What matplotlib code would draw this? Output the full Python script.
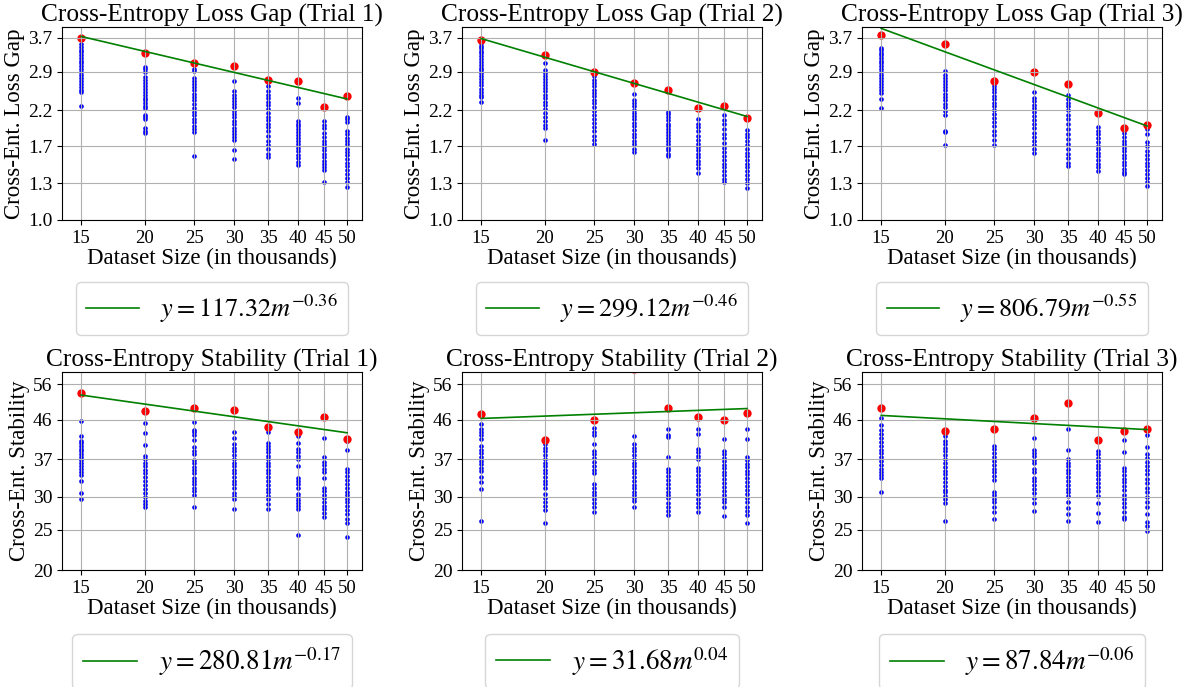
import numpy as np
import matplotlib.pyplot as plt

plt.rcParams['font.family'] = 'serif'
plt.rcParams['font.serif'] = ['Liberation Serif']
plt.rcParams['mathtext.fontset'] = 'stix'

sizes = [15, 20, 25, 30, 35, 40, 45, 50]
size_labels = ['15', '20', '25', '30', '35', '40', '45', '50']

# loss gap, one list per dataset size
gap1 = [
    [3.55, 3.47, 3.40, 3.34, 3.27, 3.20, 3.14, 3.08, 3.02, 2.96, 2.90, 2.84, 2.78, 2.72, 2.66, 2.60, 2.54, 2.50, 2.27],
    [3.00, 2.95, 2.90, 2.80, 2.74, 2.68, 2.62, 2.57, 2.51, 2.46, 2.41, 2.36, 2.31, 2.27, 2.23, 2.13, 2.10, 2.06, 1.94, 1.90, 1.87],
    [2.95, 2.91, 2.78, 2.72, 2.66, 2.60, 2.54, 2.48, 2.42, 2.36, 2.30, 2.24, 2.18, 2.12, 2.07, 2.02, 1.97, 1.92, 1.88, 1.58],
    [2.72, 2.52, 2.46, 2.40, 2.35, 2.30, 2.25, 2.19, 2.14, 2.09, 2.04, 1.99, 1.94, 1.89, 1.85, 1.81, 1.78, 1.65, 1.55],
    [2.70, 2.62, 2.53, 2.46, 2.40, 2.34, 2.28, 2.22, 2.16, 2.10, 2.05, 2.00, 1.95, 1.89, 1.83, 1.77, 1.71, 1.66, 1.61, 1.57],
    [2.41, 2.32, 2.04, 2.00, 1.96, 1.92, 1.88, 1.84, 1.80, 1.76, 1.72, 1.68, 1.64, 1.60, 1.56, 1.52, 1.48],
    [2.03, 1.98, 1.93, 1.87, 1.82, 1.77, 1.73, 1.69, 1.65, 1.61, 1.57, 1.53, 1.50, 1.46, 1.43, 1.31],
    [2.10, 2.06, 2.02, 1.90, 1.85, 1.80, 1.76, 1.72, 1.67, 1.63, 1.59, 1.55, 1.51, 1.47, 1.43, 1.39, 1.35, 1.31, 1.27],
]
gap1_red = [3.69, 3.32, 3.09, 3.02, 2.74, 2.72, 2.25, 2.44]

gap2 = [
    [3.57, 3.50, 3.44, 3.37, 3.31, 3.24, 3.18, 3.11, 3.05, 2.99, 2.93, 2.87, 2.81, 2.75, 2.69, 2.63, 2.57, 2.51, 2.46, 2.42, 2.34],
    [3.09, 2.93, 2.88, 2.82, 2.76, 2.70, 2.64, 2.58, 2.52, 2.46, 2.40, 2.34, 2.28, 2.22, 2.16, 2.10, 2.04, 1.98, 1.93, 1.78],
    [2.81, 2.73, 2.67, 2.61, 2.55, 2.49, 2.43, 2.37, 2.31, 2.25, 2.19, 2.13, 2.07, 2.01, 1.95, 1.89, 1.83, 1.78, 1.73],
    [2.48, 2.37, 2.31, 2.26, 2.21, 2.16, 2.11, 2.06, 2.01, 1.96, 1.91, 1.86, 1.81, 1.76, 1.72, 1.67, 1.63],
    [2.18, 2.14, 2.10, 2.05, 2.00, 1.96, 1.92, 1.88, 1.84, 1.80, 1.76, 1.72, 1.68, 1.65, 1.61, 1.58],
    [2.06, 2.00, 1.95, 1.89, 1.83, 1.78, 1.73, 1.69, 1.65, 1.61, 1.57, 1.53, 1.49, 1.45, 1.40],
    [2.12, 2.05, 1.99, 1.92, 1.86, 1.80, 1.74, 1.68, 1.63, 1.58, 1.54, 1.50, 1.46, 1.42, 1.38, 1.34, 1.31],
    [1.91, 1.86, 1.81, 1.76, 1.71, 1.66, 1.62, 1.58, 1.54, 1.50, 1.46, 1.42, 1.38, 1.34, 1.30, 1.26],
]
gap2_red = [3.64, 3.26, 2.89, 2.68, 2.55, 2.23, 2.27, 2.08]

gap3 = [
    [3.44, 3.38, 3.32, 3.26, 3.20, 3.14, 3.08, 3.02, 2.96, 2.90, 2.84, 2.78, 2.72, 2.66, 2.60, 2.54, 2.49, 2.39, 2.24],
    [2.91, 2.84, 2.78, 2.72, 2.66, 2.60, 2.54, 2.48, 2.42, 2.36, 2.30, 2.25, 2.19, 2.13, 1.90, 1.88, 1.71],
    [2.62, 2.56, 2.50, 2.44, 2.38, 2.32, 2.26, 2.20, 2.14, 2.08, 2.02, 1.96, 1.90, 1.84, 1.78, 1.71],
    [2.51, 2.40, 2.35, 2.29, 2.23, 2.17, 2.11, 2.05, 1.99, 1.93, 1.87, 1.81, 1.76, 1.71, 1.66, 1.62],
    [2.45, 2.38, 2.32, 2.26, 2.20, 2.13, 2.06, 1.99, 1.92, 1.85, 1.79, 1.73, 1.67, 1.61, 1.56, 1.51, 1.47],
    [1.95, 1.90, 1.85, 1.80, 1.75, 1.70, 1.66, 1.62, 1.58, 1.54, 1.50, 1.46, 1.42],
    [1.87, 1.82, 1.77, 1.72, 1.68, 1.64, 1.60, 1.56, 1.52, 1.48, 1.44, 1.41, 1.39],
    [1.92, 1.85, 1.75, 1.70, 1.64, 1.59, 1.55, 1.51, 1.47, 1.43, 1.39, 1.35, 1.31, 1.28],
]
gap3_red = [3.79, 3.53, 2.71, 2.89, 2.65, 2.16, 1.93, 1.98]

# stability
stab1 = [
    [45.7, 42.0, 41.0, 40.4, 39.8, 39.2, 38.6, 38.0, 37.4, 36.8, 36.2, 35.6, 35.0, 34.4, 33.8, 32.7, 30.7, 29.7],
    [45.1, 42.8, 40.1, 37.7, 37.0, 36.3, 35.6, 34.9, 34.2, 33.5, 32.8, 32.1, 31.4, 30.7, 30.0, 29.4, 28.9, 28.4],
    [45.5, 43.6, 43.0, 42.4, 41.2, 39.6, 38.8, 38.0, 36.9, 36.2, 35.5, 34.8, 34.3, 33.4, 32.8, 32.2, 31.6, 31.0, 30.4, 28.4],
    [43.1, 41.7, 40.2, 39.4, 38.6, 37.8, 37.0, 36.3, 35.6, 34.9, 34.2, 33.5, 32.8, 32.2, 31.6, 30.6, 30.1, 29.7, 28.0],
    [42.9, 40.5, 39.8, 39.1, 38.4, 37.7, 37.0, 36.3, 35.6, 34.9, 34.2, 33.5, 32.8, 32.1, 31.4, 30.8, 30.2, 29.6, 28.9, 28.0],
    [42.1, 40.5, 39.1, 38.4, 37.6, 37.0, 35.6, 33.4, 32.8, 32.2, 31.6, 30.5, 30.0, 29.5, 29.0, 28.5, 28.0, 24.3],
    [41.6, 37.5, 36.5, 35.8, 35.1, 34.4, 33.4, 31.6, 31.0, 30.4, 29.8, 29.2, 28.6, 28.0, 27.4, 26.8],
    [41.0, 39.0, 35.1, 34.4, 33.7, 33.0, 32.3, 31.6, 30.9, 30.3, 29.7, 29.1, 28.5, 27.9, 27.3, 26.6, 25.9, 24.0],
]
stab1_red = [53.5, 48.2, 49.2, 48.6, 44.2, 43.1, 46.8, 41.3]

stab2 = [
    [44.9, 43.7, 43.0, 42.2, 41.3, 39.8, 39.0, 38.2, 37.4, 36.7, 36.0, 35.3, 34.6, 33.5, 32.6, 31.3, 26.2],
    [40.2, 39.4, 38.6, 37.8, 37.0, 36.3, 35.6, 34.9, 34.2, 33.5, 32.8, 32.2, 31.6, 30.5, 29.8, 29.2, 28.6, 27.9, 26.0],
    [43.9, 43.1, 42.4, 40.2, 38.7, 38.0, 37.2, 36.4, 35.6, 34.9, 34.2, 32.3, 31.6, 30.9, 30.3, 29.6, 29.0, 28.4, 27.6],
    [42.1, 40.2, 39.4, 38.6, 37.8, 37.0, 36.3, 35.6, 34.9, 34.2, 33.5, 32.8, 32.1, 31.5, 30.9, 30.3, 29.8, 29.4, 28.4],
    [43.7, 42.2, 41.8, 37.5, 35.1, 34.4, 33.7, 33.0, 32.3, 31.6, 30.9, 30.3, 29.9, 29.0, 28.4, 27.8, 27.1],
    [43.7, 42.6, 39.1, 38.4, 37.7, 37.0, 35.3, 34.6, 33.9, 33.2, 32.5, 31.8, 31.1, 30.5, 29.7, 29.0, 28.3, 27.6],
    [41.3, 38.7, 38.0, 37.3, 36.6, 35.9, 35.2, 34.5, 33.8, 33.1, 32.4, 31.7, 31.0, 30.3, 29.7, 29.1, 28.4, 27.0],
    [43.7, 41.3, 37.5, 36.8, 36.1, 35.4, 34.7, 34.0, 33.3, 32.6, 31.9, 31.2, 30.5, 29.8, 29.1, 28.4, 27.7, 27.1, 26.0],
]
stab2_red = [47.5, 41.1, 45.9, 61.0, 49.2, 46.7, 45.9, 47.9]

stab3 = [
    [46.5, 44.6, 43.6, 42.6, 41.6, 40.6, 39.8, 39.0, 38.2, 37.4, 36.6, 35.8, 35.0, 34.4, 33.8, 33.4, 30.9],
    [42.1, 41.0, 40.2, 39.4, 38.6, 37.8, 37.0, 36.2, 35.4, 34.7, 34.0, 33.3, 32.6, 31.9, 31.2, 30.9, 30.2, 29.6, 29.0, 26.3],
    [39.9, 39.1, 38.3, 37.5, 36.7, 35.9, 35.1, 34.4, 33.6, 32.9, 30.9, 30.3, 29.7, 29.1, 28.4, 27.6, 26.6],
    [41.6, 39.0, 38.3, 37.6, 36.9, 36.2, 35.0, 34.4, 33.4, 32.7, 32.0, 31.3, 30.6, 29.9, 29.0, 27.7],
    [43.7, 39.0, 37.0, 36.3, 35.6, 34.9, 34.2, 33.5, 32.8, 32.1, 31.4, 30.8, 30.2, 29.1, 28.2, 27.3, 26.3],
    [38.7, 38.0, 37.3, 36.6, 35.9, 35.2, 34.5, 33.8, 33.1, 32.4, 31.7, 31.0, 30.2, 29.0, 27.4, 26.1],
    [41.1, 38.4, 35.3, 34.6, 33.9, 33.2, 32.5, 31.8, 31.1, 30.4, 29.7, 29.0, 28.3, 27.6, 26.9, 26.6],
    [42.4, 39.6, 38.0, 37.2, 36.4, 35.6, 34.8, 34.0, 33.2, 32.4, 31.6, 30.8, 30.0, 29.2, 28.4, 27.3, 26.1, 25.5, 24.8],
]
stab3_red = [49.2, 43.2, 43.7, 46.5, 50.4, 41.1, 43.2, 43.8]

# fit coefficients shown in the legends
gap_a = [117.32, 299.12, 806.79]
gap_b = [-0.36, -0.46, -0.55]
stab_a = [280.81, 31.68, 87.84]
stab_b = [-0.17, 0.04, -0.06]

gap_ticks = [1.0, 1.3, 1.7, 2.2, 2.9, 3.7]
stab_ticks = [20, 25, 30, 37, 46, 56]

fig = plt.figure(figsize=(11.97, 6.87), dpi=100)

rows = [
    ('Cross-Entropy Loss Gap', 'Cross-Ent. Loss Gap', [gap1, gap2, gap3],
     [gap1_red, gap2_red, gap3_red], gap_a, gap_b, gap_ticks, (1.0, 4.0)),
    ('Cross-Entropy Stability', 'Cross-Ent. Stability', [stab1, stab2, stab3],
     [stab1_red, stab2_red, stab3_red], stab_a, stab_b, stab_ticks, (20, 60)),
]
# axes boxes in pixels: bottom edge, height, legend gap below axes, legend font
row_boxes = [(220, 193, 62, 19), (570, 198, 64, 19.5)]
col_lefts = [62, 462, 862]

for r, (title, ylabel, blues, reds, A, B, yt, ylim) in enumerate(rows):
    bot, h, gap, lfs = row_boxes[r]
    for c in range(3):
        ax = fig.add_axes([col_lefts[c] / 1197, 1 - bot / 687, 300 / 1197, h / 687])
        ax.set_xscale('log')
        ax.set_yscale('log')
        for s, vals in zip(sizes, blues[c]):
            ax.scatter([s] * len(vals), vals, s=11, color='blue', linewidths=0)
        ax.scatter(sizes, reds[c], s=36, color='red', linewidths=0)
        p = np.polyfit(np.log(np.array(sizes) * 1000.0), np.log(reds[c]), 1)
        fit = np.exp(p[1]) * (np.array(sizes) * 1000.0) ** p[0]
        ax.plot(sizes, fit, color='green', linewidth=1.2,
                label=r'$y=%.2fm^{%.2f}$' % (A[c], B[c]))
        ax.set_xlim(13.75, 53.5)
        ax.set_ylim(*ylim)
        ax.set_xticks(sizes, size_labels)
        ax.set_yticks(yt, [str(v) for v in yt])
        ax.minorticks_off()
        ax.tick_params(axis='x', labelsize=13.5)
        ax.tick_params(axis='y', labelsize=14)
        ax.grid(True)
        ax.set_title('%s (Trial %d)' % (title, c + 1), fontsize=18.3, pad=3)
        ax.set_xlabel('Dataset Size (in thousands)', fontsize=16.5, labelpad=1)
        ax.set_ylabel(ylabel, fontsize=16.5, labelpad=2)
        ax.legend(loc='upper center', bbox_to_anchor=(0.5, -gap / h),
                  borderaxespad=0, fontsize=lfs)

fig.savefig('out.png')
